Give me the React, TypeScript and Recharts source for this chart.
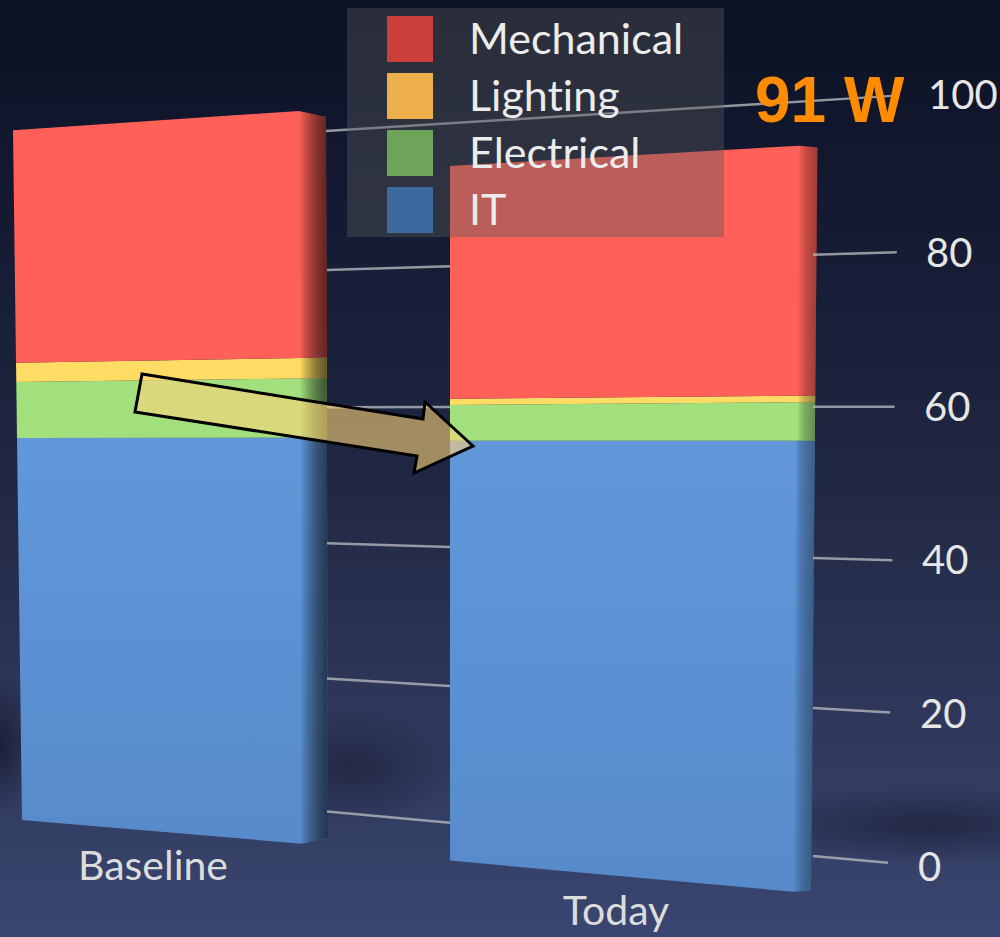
import { BarChart, Bar, XAxis, YAxis, Legend } from "recharts";

const categories = ["Baseline", "Today"];
const itValues = [55.4, 55];
const electricalValues = [8.1, 4.7];
const lightingValues = [2.8, 0.8];
const mechanicalValues = [33.7, 30.5];
const yTicks = [0, 20, 40, 60, 80, 100];
const gridNudge = [-1, 2, 3, 3, 2, -1];

const seriesNames = ["IT", "Electrical", "Lighting", "Mechanical"];
const barColors = ["url(#itFace)", "#a2e07e", "#ffdc64", "#ff6058"];
const legendColors: Record<string, string> = {
  Mechanical: "#cc403c",
  Lighting: "#eeb04c",
  Electrical: "#6ea45a",
  IT: "#3c6a9e",
};

const data = categories.map((name, i) => ({
  name,
  IT: itValues[i],
  Electrical: electricalValues[i],
  Lighting: lightingValues[i],
  Mechanical: mechanicalValues[i],
}));

const PLOT_TOP = 95;
const PLOT_BOTTOM = 862;
const HORIZON = 440;
const LABEL_FONT = "Lato, 'Open Sans', sans-serif";

// the picture is a 3D chart photographed at an angle, so every bar gets its own warp
const faces = [
  { foot: 833, stretch: 0.93, skew: 0.066, left: [22, 13], right: [328, 326], strip: 27, chamfer: 8, grad: "sideBaseline" },
  { foot: 877, stretch: 1.034, skew: 0.075, left: [450, 450], right: [811, 818], strip: 18, chamfer: 3, grad: "sideToday" },
];

const lerp = (a: number, b: number, t: number) => a + (b - a) * t;

function warpedBar(seriesIndex: number) {
  return function WarpedBar(props: any) {
    const { y, height, index, fill } = props;
    const f = faces[index];
    const frac = (yy: number) => (PLOT_BOTTOM - yy) / (PLOT_BOTTOM - PLOT_TOP);
    const mid = (yy: number) => f.foot - (PLOT_BOTTOM - yy) * f.stretch;
    const edge = (yy: number, side: "left" | "right") => lerp(f[side][0], f[side][1], frac(yy));
    const py = (yy: number, xf: number) => mid(yy) + (mid(yy) - HORIZON) * f.skew * (xf - 0.5);

    const yTop = y;
    const yBot = y + height;
    const lt = edge(yTop, "left");
    const rt = edge(yTop, "right");
    const lb = edge(yBot, "left");
    const rb = edge(yBot, "right");
    const stripF = 1 - f.strip / (rt - lt);
    const sxt = lerp(lt, rt, stripF);
    const sxb = lerp(lb, rb, stripF);
    const capTop = seriesIndex === seriesNames.length - 1 ? f.chamfer : 0;
    const capBot = seriesIndex === 0 ? f.chamfer : 0;

    const front = [
      [lt, py(yTop, 0)],
      [sxt, py(yTop, stripF)],
      [rt, py(yTop, 1) + capTop],
      [rb, py(yBot, 1) - capBot],
      [sxb, py(yBot, stripF)],
      [lb, py(yBot, 0)],
    ];
    const side = [front[1], front[2], front[3], front[4]];
    const pts = (list: number[][]) => list.map((p) => p.join(",")).join(" ");
    return (
      <g>
        <polygon points={pts(front)} fill={fill} />
        <polygon points={pts(side)} fill={`url(#${f.grad})`} />
      </g>
    );
  };
}

// grid lines only show in the gaps beside the bars
function AxisTick(props: any) {
  const { y, payload } = props;
  const value = payload.value;
  const nudge = gridNudge[yTicks.indexOf(value)];
  const lineY = (x: number) => 407 + nudge + (y - 405) * (1 - (890 - x) * 0.0002);
  const end = value === 100 ? 892 : 888 + value * 0.11;
  const segs = value === 100 ? [[326, end]] : [[327, 450], [813, end]];
  return (
    <g>
      {segs.map((s, i) => (
        <line key={i} x1={s[0]} y1={lineY(s[0])} x2={s[1]} y2={lineY(s[1])} stroke="#b4b6bc" strokeWidth={2.5} opacity={0.8} />
      ))}
      <text x={918 + value * 0.1} y={y + (value === 100 ? 14 : 19)} fill="#e6e6e6" fontSize={40} fontFamily={LABEL_FONT}>
        {value}
      </text>
    </g>
  );
}

function CategoryTick(props: any) {
  const { x, payload, index } = props;
  const baseY = [880, 925][index];
  return (
    <text x={x - 16} y={baseY} textAnchor="middle" fill="#dcdcdc" fontSize={41} fontFamily={LABEL_FONT}>
      {payload.value}
    </text>
  );
}

function LegendPanel() {
  const rows = [...seriesNames].reverse();
  return (
    <div style={{ position: "relative", width: 377, height: 229, background: "rgba(87,90,92,0.405)" }}>
      {rows.map((name, i) => (
        <div key={name}>
          <div style={{ position: "absolute", left: 40, top: 8 + i * 57, width: 46, height: 46, background: legendColors[name] }} />
          <div
            style={{
              position: "absolute",
              left: 122,
              top: 2 + i * 57,
              fontFamily: LABEL_FONT,
              fontSize: 43,
              lineHeight: "56px",
              color: "#ececec",
              whiteSpace: "nowrap",
              fontVariantLigatures: "none",
            }}
          >
            {name}
          </div>
        </div>
      ))}
    </div>
  );
}

const arrowPoints = "142,374 135,412 417,456 414,473 473,446 425,402 423,419";

export default function App() {
  return (
    <div
      style={{
        position: "absolute",
        left: 0,
        top: 0,
        width: 1000,
        height: 937,
        overflow: "hidden",
        background:
          "radial-gradient(ellipse 210px 40px at 930px 825px, rgba(28,33,58,0.75), rgba(28,33,58,0) 100%)," +
          "radial-gradient(ellipse 110px 60px at 350px 768px, rgba(28,33,58,0.7), rgba(28,33,58,0) 100%)," +
          "radial-gradient(ellipse 40px 70px at 0px 745px, rgba(24,28,50,0.85), rgba(24,28,50,0) 100%)," +
          "linear-gradient(180deg, #0c1124 0%, #151b33 25%, #1f2742 50%, #2e3759 75%, #3a4670 100%)",
      }}
    >
      <BarChart
        width={1000}
        height={937}
        data={data}
        margin={{ top: PLOT_TOP, right: 0, bottom: 0, left: -62.5 }}
        barSize={338}
        style={{ position: "absolute", left: 0, top: 0 }}
      >
        <defs>
          <linearGradient id="itFace" x1="0" y1="0" x2="0" y2="1">
            <stop offset="0" stopColor="#6298da" />
            <stop offset="0.45" stopColor="#5b92d4" />
            <stop offset="1" stopColor="#578aca" />
          </linearGradient>
          <linearGradient id="sideBaseline" x1="0" y1="0" x2="1" y2="0">
            <stop offset="0" stopColor="#000" stopOpacity={0} />
            <stop offset="0.3" stopColor="#000" stopOpacity={0.25} />
            <stop offset="0.6" stopColor="#000" stopOpacity={0.45} />
            <stop offset="1" stopColor="#000" stopOpacity={0.62} />
          </linearGradient>
          <linearGradient id="sideToday" x1="0" y1="0" x2="1" y2="0">
            <stop offset="0" stopColor="#000" stopOpacity={0} />
            <stop offset="0.4" stopColor="#000" stopOpacity={0.22} />
            <stop offset="1" stopColor="#000" stopOpacity={0.38} />
          </linearGradient>
        </defs>
        <XAxis dataKey="name" height={75} interval={0} axisLine={false} tickLine={false} tick={<CategoryTick />} />
        <YAxis
          orientation="right"
          width={136.5}
          domain={[0, 100]}
          ticks={yTicks}
          interval={0}
          axisLine={false}
          tickLine={false}
          tick={<AxisTick />}
        />
        {seriesNames.map((name, i) => (
          <Bar key={name} dataKey={name} stackId="power" fill={barColors[i]} shape={warpedBar(i)} isAnimationActive={false} />
        ))}
        <Legend
          layout="vertical"
          align="center"
          verticalAlign="middle"
          wrapperStyle={{ left: 347, top: 8, width: 377, height: 229 }}
          content={<LegendPanel />}
        />
      </BarChart>
      <svg width={1000} height={937} style={{ position: "absolute", left: 0, top: 0, pointerEvents: "none" }}>
        <polygon points={arrowPoints} fill="rgba(255,212,120,0.59)" stroke="#000" strokeWidth={3} />
      </svg>
      <div
        style={{
          position: "absolute",
          left: 755,
          top: 63,
          fontFamily: "'Liberation Sans', Arial, sans-serif",
          fontWeight: 700,
          fontSize: 64,
          lineHeight: "74px",
          color: "#ff8c00",
          whiteSpace: "nowrap",
        }}
      >
        91 W
      </div>
    </div>
  );
}
